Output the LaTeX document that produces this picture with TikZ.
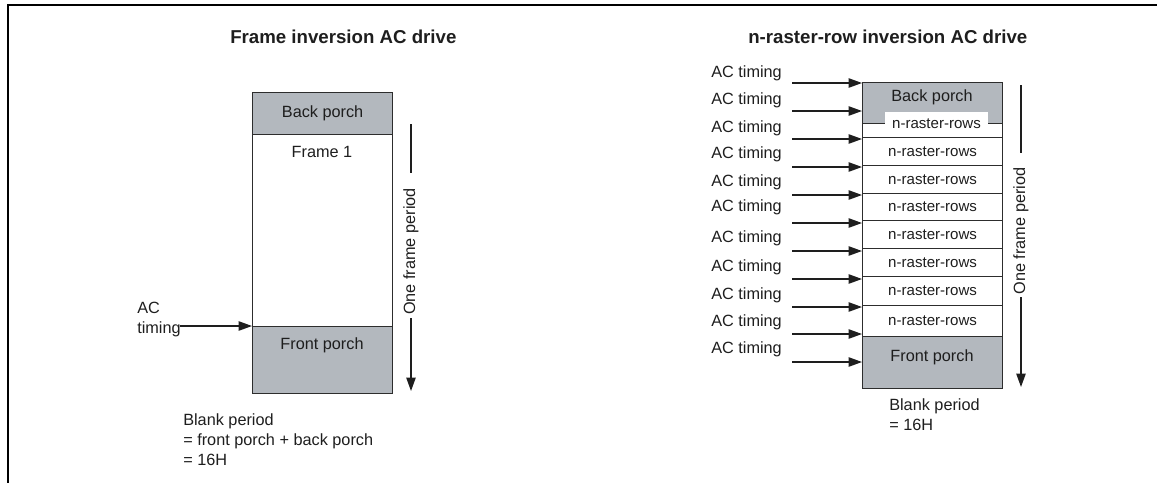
\documentclass[tikz,border=0pt]{standalone}
\usepackage{fontspec}
\setmainfont{Liberation Sans}
\usetikzlibrary{arrows.meta}
\definecolor{porch}{RGB}{179,184,190}
\definecolor{edge}{RGB}{45,45,45}
\definecolor{ink}{RGB}{30,30,30}
\begin{document}
\begin{tikzpicture}[x=0.75pt,y=-0.75pt,
  txt/.style={font=\fontsize{12.2}{15}\selectfont, inner sep=0pt, text=ink},
  ttl/.style={font=\fontsize{14}{16}\bfseries\selectfont, inner sep=0pt, anchor=west, text=ink},
  box/.style={draw=edge, line width=0.9pt, inner sep=0pt, anchor=north west, minimum width=105pt, font=\fontsize{12.2}{15}\selectfont, text=ink},
  grey/.style={box, fill=porch},
  rowbox/.style={box, fill=white, font=\fontsize{11.3}{13}\selectfont},
  arr/.style={line width=1pt, draw=ink, -{Triangle[length=10pt,width=7pt]}},
  per/.style={line width=1pt, draw=ink},
]
\useasboundingbox (0,0) rectangle (1157,483);
\draw[line width=1.5pt, draw=black] (1157,4.75) -- (7.75,4.75) -- (7.75,483);

% ---------- left diagram ----------
\node[ttl] (t1) at (230,37) {Frame inversion AC drive};
\node[grey, minimum height=31.5pt] (bp1) at (252,92) {Back porch};
\node[box, minimum height=144pt] (fr1) at (252,134) {};
\node[grey, minimum height=50.25pt] (fp1) at (252,326) {};
\node[txt] (f1) at (322,152) {Frame 1};
\node[txt] (fpt1) at (322,345) {Front porch};
\node[txt, anchor=west, align=left] (ac1) at (137,320) {AC\\timing};
\coordinate (a1) at (180,326);
\draw[arr] (a1) -- (a1 -| fr1.west);
\node[txt, rotate=90] (ofp1) at (411,251.5) {One frame period};
\coordinate (o1t) at (411,124);
\coordinate (o1m) at (411,318);
\draw[per] (o1t) -- (411,173);
\draw[per, -{Triangle[length=10pt,width=7pt]}] (o1m) -- (411,391);
\node[txt, anchor=north west, align=left] (bl1) at (183,413) {Blank period\\= front porch + back porch\\= 16H};

% ---------- right diagram ----------
\node[ttl] (t2) at (748,37) {n-raster-row inversion AC drive};
\node[grey, minimum height=30.75pt] (bp2) at (862,82) {};
\node[txt] (bpt2) at (932,97) {Back porch};
\node[rowbox, minimum height=10.5pt] (r0) at (862,123) {};
\node[rowbox, minimum height=21pt] (r1) at (862,137) {n-raster-rows};
\node[rowbox, minimum height=21pt] (r2) at (862,165) {n-raster-rows};
\node[rowbox, minimum height=20.25pt] (r3) at (862,193) {n-raster-rows};
\node[rowbox, minimum height=21pt] (r4) at (862,220) {n-raster-rows};
\node[rowbox, minimum height=21pt] (r5) at (862,248) {n-raster-rows};
\node[rowbox, minimum height=21.75pt] (r6) at (862,276) {n-raster-rows};
\node[rowbox, minimum height=23.25pt] (r7) at (862,305) {n-raster-rows};
\node[grey, minimum height=39pt] (fp2) at (862,336) {};
\node[txt] (fpt2) at (932,357) {Front porch};
\node[fill=white, inner sep=0pt, minimum width=77.25pt, minimum height=17.5pt,
      font=\fontsize{11.3}{13}\selectfont, text=ink] (r0l) at (936.5,124) {n-raster-rows};

\foreach \y [count=\i] in {83,111,139,167,195,223,251,279,307,334,362} {
  \coordinate (s\i) at (792,\y);
  \draw[arr] (s\i) -- (s\i -| bp2.west);
}
\foreach \y [count=\i] in {73,100,128,154,182,207,238,267,295,322,349} {
  \node[txt, anchor=west] (ac2\i) at (711,\y) {AC timing};
}
\node[txt, rotate=90] (ofp2) at (1021,231) {One frame period};
\coordinate (o2t) at (1021,85);
\coordinate (o2m) at (1021,297);
\draw[per] (o2t) -- (1021,153);
\draw[per, -{Triangle[length=10pt,width=7pt]}] (o2m) -- (1021,387);
\node[txt, anchor=north west, align=left] (bl2) at (889,398) {Blank period\\= 16H};
\end{tikzpicture}
\end{document}
